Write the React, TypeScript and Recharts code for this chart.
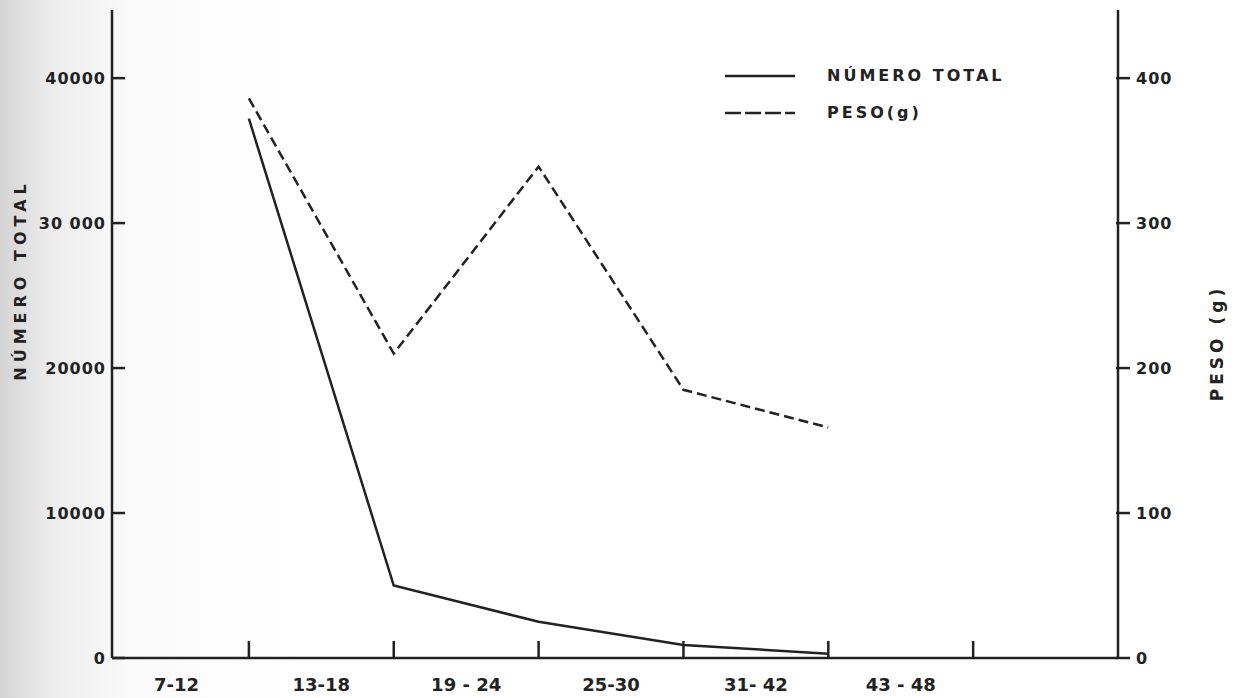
import React from "react";
import { LineChart, Line, XAxis, YAxis, Legend } from "recharts";

// age classes (months) – one band each, values sit on the band edges
const categories = ["7-12", "13-18", "19 - 24", "25-30", "31- 42", "43 - 48"];
const positions = [1, 2, 3, 4, 5];
const numeroTotal = [37200, 5000, 2500, 900, 300];
const pesoG = [386, 210, 339, 185, 159];

const leftTicks = [0, 10000, 20000, 30000, 40000];
const leftTickLabels = ["0", "10000", "20000", "30 000", "40000"];
const rightTicks = [0, 100, 200, 300, 400];

const INK = "#222";
const FONT = "'DejaVu Sans', sans-serif";

const data = positions.map((x, i) => ({
  x,
  numero: numeroTotal[i],
  peso: pesoG[i],
}));

const bandTicks = categories.map((_, i) => i + 0.5);
const edgeTicks = categories.map((_, i) => i + 1);
const xTicks = [...bandTicks, ...edgeTicks].sort((a, b) => a - b);

function XTick(props: any) {
  const { x, y, payload } = props;
  const v = payload.value as number;
  if (Number.isInteger(v)) {
    return <line x1={x} x2={x} y1={y} y2={y - 17} stroke={INK} strokeWidth={2.5} />;
  }
  return (
    <text x={x} y={y + 33} textAnchor="middle" fontFamily={FONT} fontWeight={700} fontSize={18} fill={INK}>
      {categories[Math.floor(v)]}
    </text>
  );
}

function LeftTick(props: any) {
  const { x, y, payload } = props;
  const idx = leftTicks.indexOf(payload.value);
  return (
    <g>
      <line x1={x + 6} x2={x + 19} y1={y} y2={y} stroke={INK} strokeWidth={2.5} />
      <text x={x} y={y + 6} textAnchor="end" fontFamily={FONT} fontWeight={700} fontSize={16} letterSpacing={1} fill={INK}>
        {leftTickLabels[idx]}
      </text>
    </g>
  );
}

function RightTick(props: any) {
  const { x, y, payload } = props;
  return (
    <g>
      <line x1={x - 16} x2={x - 2} y1={y} y2={y} stroke={INK} strokeWidth={2.5} />
      <text x={x + 4} y={y + 6} textAnchor="start" fontFamily={FONT} fontWeight={700} fontSize={16} letterSpacing={1} fill={INK}>
        {payload.value}
      </text>
    </g>
  );
}

function LegendBox(props: any) {
  const items = props.payload || [];
  return (
    <div>
      {items.map((it: any) => (
        <div key={it.value} style={{ display: "flex", alignItems: "center", height: 37 }}>
          <svg width={76} height={10}>
            <line
              x1={2}
              x2={72}
              y1={5}
              y2={5}
              stroke={INK}
              strokeWidth={2.5}
              strokeDasharray={it.payload?.strokeDasharray ? "16 4" : undefined}
            />
          </svg>
          <span
            style={{
              marginLeft: 28,
              fontFamily: FONT,
              fontWeight: 700,
              fontSize: 16,
              letterSpacing: 3,
              color: INK,
            }}
          >
            {it.value}
          </span>
        </div>
      ))}
    </div>
  );
}

export default function App() {
  return (
    <div
      style={{
        position: "absolute",
        left: 0,
        top: 0,
        width: 1239,
        height: 698,
        background: "linear-gradient(to right, #d4d4d4 0px, #ececec 50px, #fafafa 130px, #ffffff 300px)",
      }}
    >
      <LineChart width={1239} height={698} data={data} margin={{ top: 10, right: 0, bottom: 0, left: 0 }}>
        <XAxis
          dataKey="x"
          type="number"
          domain={[0.055, 7]}
          allowDataOverflow
          ticks={xTicks}
          interval={0}
          height={40}
          tickSize={0}
          tickMargin={0}
          tickLine={false}
          axisLine={{ stroke: INK, strokeWidth: 2.5 }}
          tick={<XTick />}
        />
        <YAxis
          yAxisId="left"
          orientation="left"
          width={112}
          domain={[0, 44700]}
          ticks={leftTicks}
          interval={0}
          tickSize={0}
          tickMargin={6}
          tickLine={false}
          axisLine={{ stroke: INK, strokeWidth: 2.5 }}
          tick={<LeftTick />}
          label={{
            content: (p: any) => {
              const vb = p.viewBox;
              const cx = vb.x + 20;
              const cy = vb.y + 270;
              return (
                <text
                  x={cx}
                  y={cy}
                  transform={`rotate(-90 ${cx} ${cy})`}
                  textAnchor="middle"
                  dominantBaseline="central"
                  fontFamily={FONT}
                  fontWeight={700}
                  fontSize={16}
                  letterSpacing={5}
                  fill={INK}
                >
                  NÚMERO TOTAL
                </text>
              );
            },
          }}
        />
        <YAxis
          yAxisId="right"
          orientation="right"
          width={121}
          domain={[0, 447]}
          ticks={rightTicks}
          interval={0}
          tickSize={0}
          tickMargin={14}
          tickLine={false}
          axisLine={{ stroke: INK, strokeWidth: 2.5 }}
          tick={<RightTick />}
          label={{
            content: (p: any) => {
              const vb = p.viewBox;
              const cx = vb.x + 99;
              const cy = vb.y + 333;
              return (
                <text
                  x={cx}
                  y={cy}
                  transform={`rotate(-90 ${cx} ${cy})`}
                  textAnchor="middle"
                  dominantBaseline="central"
                  fontFamily={FONT}
                  fontWeight={700}
                  fontSize={17}
                  letterSpacing={4}
                  fill={INK}
                >
                  PESO (g)
                </text>
              );
            },
          }}
        />
        <Legend
          layout="horizontal"
          verticalAlign="middle"
          align="center"
          content={<LegendBox />}
          wrapperStyle={{ position: "absolute", left: 723, top: 57, width: 340 }}
        />
        <Line
          yAxisId="left"
          dataKey="numero"
          name="NÚMERO TOTAL"
          stroke={INK}
          strokeWidth={2.5}
          dot={false}
          activeDot={false}
          isAnimationActive={false}
        />
        <Line
          yAxisId="right"
          dataKey="peso"
          name="PESO(g)"
          stroke={INK}
          strokeWidth={2.5}
          strokeDasharray="10 5"
          dot={false}
          activeDot={false}
          isAnimationActive={false}
        />
      </LineChart>
    </div>
  );
}
